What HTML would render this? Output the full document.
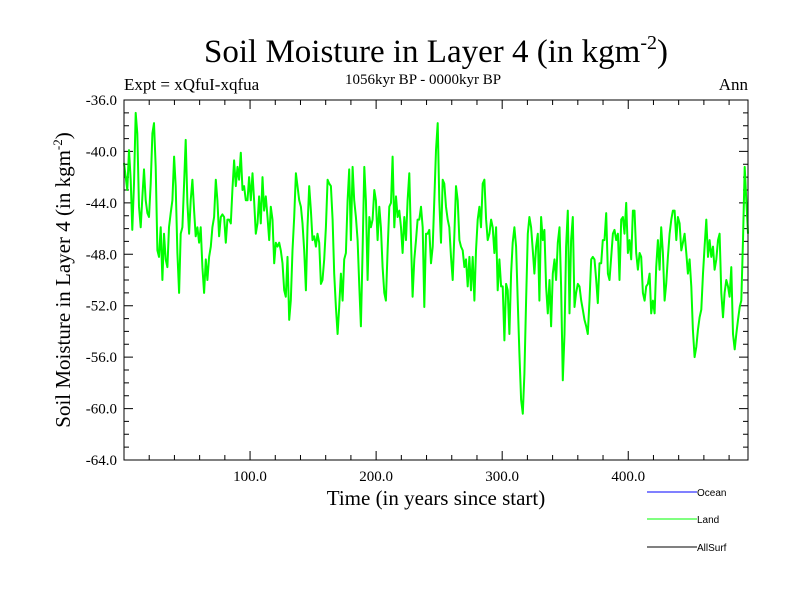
<!DOCTYPE html>
<html><head><meta charset="utf-8"><style>
body{margin:0;background:#fff}
svg{display:block}
</style></head><body>
<svg id="chart" width="800" height="600" xmlns="http://www.w3.org/2000/svg" font-family="'Liberation Serif', serif">
<rect width="800" height="600" fill="#fff"/>
<text x="436" y="62" font-size="33" text-anchor="middle">Soil Moisture in Layer 4 (in kgm<tspan dy="-13" font-size="20">-2</tspan><tspan dy="13">)</tspan></text>
<text x="124" y="90" font-size="17">Expt = xQfuI-xqfua</text>
<text x="423" y="84" font-size="15" text-anchor="middle">1056kyr BP - 0000kyr BP</text>
<text x="748" y="90" font-size="17" text-anchor="end">Ann</text>
<text x="436" y="505" font-size="21" text-anchor="middle">Time (in years since start)</text>
<text transform="translate(70,280) rotate(-90)" font-size="21" text-anchor="middle">Soil Moisture in Layer 4 (in kgm<tspan dy="-8" font-size="13">-2</tspan><tspan dy="8">)</tspan></text>
<g id="ticks"></g>
<g id="plot"></g>
<rect x="124" y="100" width="624" height="360" fill="none" stroke="#000" stroke-width="1"/>
<g font-family="'Liberation Sans', sans-serif" font-size="10">
<g><line x1="647" y1="492" x2="697" y2="492" stroke="#0000ff"/><text x="697" y="496">Ocean</text></g>
<g><line x1="647" y1="519" x2="697" y2="519" stroke="#00ff00"/><text x="697" y="523">Land</text></g>
<g><line x1="647" y1="547" x2="697" y2="547" stroke="#000"/><text x="697" y="551">AllSurf</text></g>
</g>
</svg>
<script>
const xTicks = [100, 200, 300, 400];
const xTickLabels = ["100.0", "200.0", "300.0", "400.0"];
const yTicks = [-36, -40, -44, -48, -52, -56, -60, -64];
const yTickLabels = ["-36.0", "-40.0", "-44.0", "-48.0", "-52.0", "-56.0", "-60.0", "-64.0"];
const xDomain = [0, 495];
const yDomain = [-64, -36];
const landValues = [
-40.9,-42.0,-43.0,-39.9,-42.2,-46.1,-42.5,-37.0,-38.6,-44.3,-45.9,-43.5,-41.4,-43.8,-44.8,-45.1,-42.5,-38.6,-37.8,-41.2,
-47.7,-48.2,-45.9,-50.0,-46.4,-48.4,-49.0,-45.9,-44.8,-43.8,-40.4,-42.7,-47.9,-51.0,-46.4,-45.9,-42.5,-39.1,-44.0,-46.4,
-43.8,-42.2,-44.6,-46.6,-45.9,-47.1,-45.9,-49.0,-51.0,-48.4,-50.0,-48.2,-47.4,-45.9,-45.1,-42.2,-43.8,-46.6,-45.1,-44.9,
-45.1,-47.1,-45.3,-45.3,-45.6,-43.0,-40.7,-42.7,-41.2,-42.2,-40.1,-43.0,-42.7,-43.8,-43.8,-42.0,-43.8,-41.7,-43.8,-46.4,
-45.6,-43.5,-45.6,-42.0,-44.6,-43.5,-45.1,-46.9,-44.3,-45.3,-48.7,-47.1,-47.4,-47.1,-47.7,-48.7,-50.8,-51.3,-48.2,-53.1,
-51.6,-47.7,-45.1,-41.7,-42.7,-43.8,-44.3,-45.6,-47.7,-50.8,-45.9,-42.7,-44.6,-46.9,-46.6,-47.4,-46.4,-47.1,-50.3,-50.0,
-48.4,-45.9,-42.2,-42.5,
-42.7,-45.3,-49.5,-52.1,-54.2,-52.1,-49.5,-51.6,-48.4,-47.9,-43.8,-41.4,-46.9,-41.2,-43.8,-45.1,-46.9,-50.5,-53.6,-47.7,
-41.2,-43.8,-50.0,-45.1,-45.9,-45.3,-43.0,-43.8,-46.9,-44.3,-45.9,-49.0,-51.0,-51.6,-47.7,-44.3,-44.0,-40.4,-45.9,-43.5,
-45.1,-44.6,-45.9,-47.9,-45.1,-46.9,-43.8,-41.7,-46.9,-51.3,-48.4,-46.9,-45.3,-45.3,-44.3,-45.9,-52.1,-46.4,-46.4,-46.1,
-48.7,-47.4,-43.8,-39.9,-37.8,-43.8,-47.1,-42.2,-42.5,-44.3,-45.3,-45.9,-48.2,-50.0,-46.4,-42.7,-43.8,-46.9,-47.4,-47.7,
-49.0,-48.4,-50.5,-48.2,-50.8,-48.2,-51.6,-47.7,-45.3,-44.3,-45.9,-42.5,-42.2,-45.3,-46.9,-46.4,-45.3,-45.9,-47.9,-45.9,
-50.8,-48.4,-50.5,-50.5,-54.7,-50.3,-50.8,-54.2,-49.5,-47.1,-45.9,-47.4,-51.8,-55.7,-59.3,-60.4,-57.3,-51.6,-46.4,-45.1,
-45.9,-47.7,-49.5,-47.4,-46.4,-51.6,-45.1,-46.9,-46.1,-50.5,-52.6,-50.0,-53.6,-49.5,-48.4,-50.0,-47.1,-45.9,-50.5,-57.8,
-54.2,-47.4,-44.6,-52.6,-46.9,-45.1,-52.1,-51.0,-50.3,-50.5,-51.6,-52.3,-53.1,-53.6,-54.2,-51.6,-48.4,-48.2,-48.4,-50.0,
-51.8,-48.7,-48.7,-46.9,-46.9,-44.8,-49.5,-50.0,-48.2,-46.4,-46.1,-46.9,-46.4,-50.0,-45.3,-45.1,-46.4,-44.0,-47.9,-46.9,
-48.4,-44.6,-44.6,-47.9,-49.2,-47.9,-48.2,-51.0,-51.6,-50.5,-50.3,-49.5,-52.6,-51.6,-52.6,-49.0,-46.9,-49.2,-45.9,-47.9,
-51.6,-50.3,-48.2,-46.4,-45.3,-44.6,-44.6,-46.9,-45.1,-45.6,-47.7,-47.1,-46.4,-47.9,-49.5,-48.4,-50.5,-53.9,-56.0,-55.2,
-53.9,-52.9,-52.3,-49.5,-47.4,-45.3,-48.2,-46.9,-48.2,-47.4,-49.2,-48.4,-46.9,-46.4,-51.0,-52.9,-51.0,-50.0,-50.5,-51.3,
-49.0,-54.2,-55.4,-54.2,-53.1,-52.1,-51.6,-46.9,-41.2,-43.8,-46.4
];
const NS = "http://www.w3.org/2000/svg";
const L = 124, R = 748, T = 100, B = 460;
function xs(v){ return L + (v - xDomain[0]) / (xDomain[1] - xDomain[0]) * (R - L); }
function ys(v){ return B - (v - yDomain[0]) / (yDomain[1] - yDomain[0]) * (B - T); }
const tg = document.getElementById('ticks');
let d = "";
for (let v = 20; v < xDomain[1]; v += 20) {
  const major = v % 100 === 0, len = major ? 9 : 5, x = xs(v);
  d += `M${x},${B}v${-len}M${x},${T}v${len}`;
}
for (let v = yDomain[0] + 1; v < yDomain[1]; v += 1) {
  const major = v % 4 === 0, len = major ? 9 : 5, y = ys(v);
  d += `M${L},${y}h${len}M${R},${y}h${-len}`;
}
const tp = document.createElementNS(NS, 'path');
tp.setAttribute('d', d); tp.setAttribute('stroke', '#000'); tp.setAttribute('fill', 'none');


tg.appendChild(tp);
xTicks.forEach((v, i) => {
  const t = document.createElementNS(NS, 'text');
  t.setAttribute('x', xs(v)); t.setAttribute('y', 481);
  t.setAttribute('font-size', '15'); t.setAttribute('text-anchor', 'middle');
  t.textContent = xTickLabels[i];
  
  
  tg.appendChild(t);
});
yTicks.forEach((v, i) => {
  const t = document.createElementNS(NS, 'text');
  t.setAttribute('x', 117); t.setAttribute('y', ys(v) + 5);
  t.setAttribute('font-size', '15'); t.setAttribute('text-anchor', 'end');
  t.textContent = yTickLabels[i];
  
  
  tg.appendChild(t);
});
const n = landValues.length;
const pts = landValues.map((v, i) => {
  const yr = xDomain[0] + i * (xDomain[1] - xDomain[0]) / (n - 1);
  return xs(yr).toFixed(1) + "," + ys(v).toFixed(1);
}).join(" ");
const line = document.createElementNS(NS, 'polyline');
line.setAttribute('points', pts);
line.setAttribute('fill', 'none');
line.setAttribute('stroke', '#00ff00');
line.setAttribute('stroke-width', '2');
line.setAttribute('stroke-linejoin', 'round');


document.getElementById('plot').appendChild(line);
</script>
</body></html>
